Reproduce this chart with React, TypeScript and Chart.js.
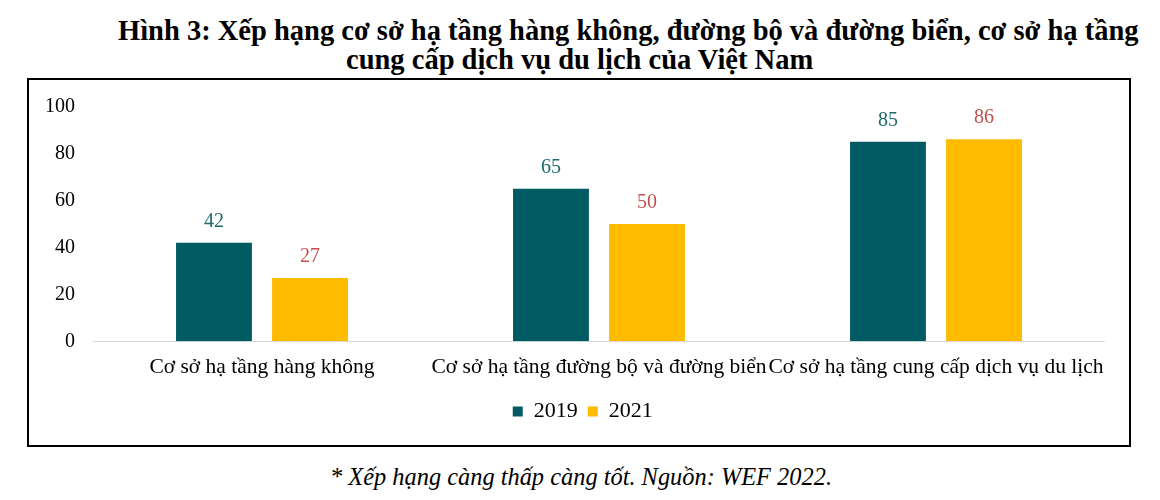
import { useEffect, useRef } from "react";
import { Chart, registerables } from "chart.js";

Chart.register(...registerables);

const categories = [
  "Cơ sở hạ tầng hàng không",
  "Cơ sở hạ tầng đường bộ và đường biển",
  "Cơ sở hạ tầng cung cấp dịch vụ du lịch",
];
const years = ["2019", "2021"];
const values2019 = [42, 65, 85];
const values2021 = [27, 50, 86];

const SERIF = "'Liberation Serif', 'Times New Roman', serif";
const BAR_COLORS = ["#005b63", "#ffbb00"];
const LABEL_COLORS = ["#1d6a6a", "#c0504d"];

// draws the value over each bar, coloured per series
const valueLabels = {
  id: "valueLabels",
  afterDatasetsDraw(chart: Chart) {
    const { ctx } = chart;
    ctx.save();
    ctx.font = `20px ${SERIF}`;
    ctx.textAlign = "center";
    ctx.textBaseline = "alphabetic";
    chart.data.datasets.forEach((ds, i) => {
      const meta = chart.getDatasetMeta(i);
      ctx.fillStyle = LABEL_COLORS[i];
      meta.data.forEach((bar: any, j) => {
        ctx.fillText(String(ds.data[j]), bar.x, bar.y - 16);
      });
    });
    ctx.restore();
  },
};

// the legend sits a little right of the canvas centre in the original
const legendShift = {
  id: "legendShift",
  afterLayout(chart: any) {
    const lg = chart.legend;
    if (lg) {
      lg.left += 16;
      lg.right += 16;
    }
  },
};

function RankChart() {
  const canvasRef = useRef<HTMLCanvasElement>(null);

  useEffect(() => {
    if (!canvasRef.current) return;
    const chart = new Chart(canvasRef.current, {
      type: "bar",
      data: {
        labels: categories,
        datasets: [
          { label: years[0], data: values2019, backgroundColor: BAR_COLORS[0] },
          { label: years[1], data: values2021, backgroundColor: BAR_COLORS[1] },
        ],
      },
      options: {
        animation: false,
        responsive: true,
        maintainAspectRatio: false,
        layout: { padding: { top: 10, right: 24.5, bottom: 12.5, left: 0 } },
        datasets: { bar: { categoryPercentage: 0.57, barPercentage: 0.79 } },
        plugins: {
          tooltip: { enabled: false },
          legend: {
            position: "bottom",
            labels: {
              color: "#000",
              font: { family: SERIF, size: 22 },
              boxWidth: 10,
              boxHeight: 10,
              padding: 10,
            },
          },
        },
        scales: {
          x: {
            grid: { display: false, drawTicks: false },
            border: { color: "#d9d9d9", width: 1 },
            ticks: {
              color: "#000",
              font: { family: SERIF, size: 21.5 },
              padding: 13,
              maxRotation: 0,
              autoSkip: false,
            },
            afterFit: (s: any) => { s.height = 49.2; },
          },
          y: {
            min: 0,
            max: 100,
            grid: { display: false, drawTicks: false },
            border: { display: false },
            ticks: {
              stepSize: 20,
              color: "#000",
              font: { family: SERIF, size: 20, lineHeight: 0.8 },
              padding: 18.5,
            },
            afterFit: (s: any) => { s.width = 64.5; },
          },
        },
      },
      plugins: [valueLabels, legendShift],
    });
    return () => chart.destroy();
  }, []);

  return <canvas ref={canvasRef} />;
}

export default function App() {
  const titleStyle = {
    position: "absolute" as const,
    fontSize: 28.5,
    fontWeight: "bold" as const,
    lineHeight: "30px",
    whiteSpace: "nowrap" as const,
  };
  return (
    <div style={{ position: "absolute", left: 0, top: 0, width: 1160, height: 500, background: "#fff", fontFamily: SERIF }}>
      <div style={{ ...titleStyle, left: 118, top: 15.5 }}>
        Hình 3: Xếp hạng cơ sở hạ tầng hàng không, đường bộ và đường biển, cơ sở hạ tầng
      </div>
      <div style={{ ...titleStyle, left: 346, top: 44.5 }}>
        cung cấp dịch vụ du lịch của Việt Nam
      </div>
      <div style={{ position: "absolute", left: 27, top: 78, width: 1104, height: 369, border: "2px solid #000", boxSizing: "border-box" }}>
        <div style={{ position: "relative", width: 1100, height: 365 }}>
          <RankChart />
        </div>
      </div>
      <div style={{ position: "absolute", left: 330, top: 464, fontSize: 24.4, fontStyle: "italic", lineHeight: "26px", whiteSpace: "nowrap" }}>
        * Xếp hạng càng thấp càng tốt. Nguồn: WEF 2022.
      </div>
    </div>
  );
}
